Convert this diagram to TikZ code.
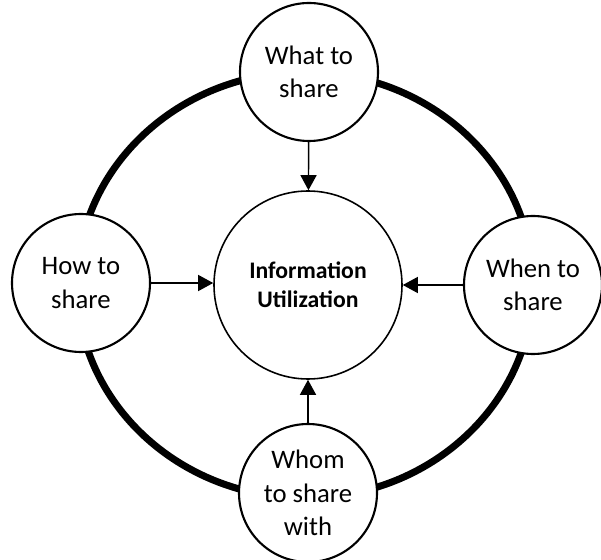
\documentclass[tikz,border=0pt]{standalone}
\usepackage{fontspec}
\setmainfont{Carlito}
\usepackage{tikz}
\usetikzlibrary{arrows.meta,positioning,calc}
\definecolor{trait}{HTML}{000000}
\tikzset{
  hub/.style={circle, draw=trait, line width=0.9pt, fill=white, align=center,
              minimum size=3.76cm, inner sep=0pt, font=\fontsize{13.5}{16.5}\selectfont\bfseries},
  spoke/.style={circle, draw=trait, line width=1.2pt, fill=white, align=center,
                minimum size=2.76cm, inner sep=0pt, font=\fontsize{15.2}{19}\selectfont},
  ring/.style={line width=4pt, draw=trait},
  arr/.style={-{Triangle[length=3mm, width=3.2mm]}, line width=0.8pt, draw=trait},
}
\begin{document}
\begin{tikzpicture}
    \useasboundingbox (-6.1,-5.48) rectangle (5.92,5.7);
    % outer ring
    \draw[ring] (0,0) ellipse [x radius=4.56cm, y radius=4.26cm];
    \node[hub] (info) at (0.06,0) {Information\\Utilization};
    \node[spoke] (what) at (0.08,4.26) {What to\\share};
    \node[spoke] (how) at (-4.48,0.04) {How to\\share};
    \node[spoke] (when) at (4.56,0) {When to\\share};
    \node[spoke] (whom) at (0.06,-4.16) {Whom\\to share\\with};
    \draw[arr] (what) -- (info);
    \draw[arr] (how.east) -- (how.east -| info.west);
    \draw[arr] (when.west) -- (when.west -| info.east);
    \draw[arr] (whom) -- (info);
  \end{tikzpicture}
\end{document}
